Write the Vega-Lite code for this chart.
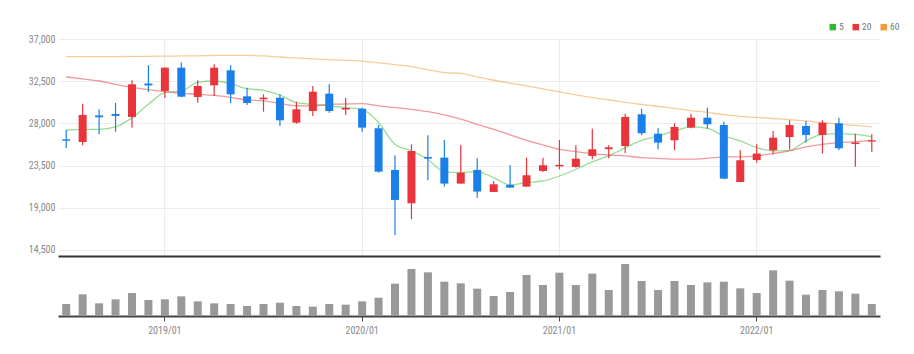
{
  "$schema": "https://vega.github.io/schema/vega-lite/v6.json",
  "padding": {"left": 8, "top": 22, "right": 34, "bottom": 5},
  "background": "white",
  "config": {
    "view": {"stroke": null},
    "font": "Roboto Condensed, Liberation Sans Narrow, Liberation Sans, sans-serif",
    "axis": {"labelFont": "Roboto Condensed, Liberation Sans Narrow, Liberation Sans, sans-serif", "labelColor": "#888", "labelFontSize": 10, "titleFontSize": 10},
    "legend": {"labelFont": "Roboto Condensed, Liberation Sans Narrow, Liberation Sans, sans-serif"}
  },
  "data": {"values": [
    {"m":"2018/07","o":26300,"h":27300,"l":25380,"c":26150,"v":360000,"5":27270,"20":32950,"60":35110},
    {"m":"2018/08","o":26020,"h":30100,"l":25670,"c":28900,"v":650000,"5":27370,"20":32750,"60":35110},
    {"m":"2018/09","o":28850,"h":29500,"l":26840,"c":28650,"v":380000,"5":27370,"20":32520,"60":35120},
    {"m":"2018/10","o":29000,"h":30180,"l":27120,"c":28800,"v":500000,"5":27620,"20":32170,"60":35130},
    {"m":"2018/11","o":28690,"h":32600,"l":27550,"c":32170,"v":690000,"5":28610,"20":31830,"60":35140},
    {"m":"2018/12","o":32250,"h":34200,"l":31350,"c":32050,"v":480000,"5":30040,"20":31600,"60":35150},
    {"m":"2019/01","o":31460,"h":34000,"l":30700,"c":33940,"v":500000,"5":31280,"20":31380,"60":35170},
    {"m":"2019/02","o":33940,"h":34500,"l":30800,"c":30850,"v":590000,"5":31460,"20":31200,"60":35190},
    {"m":"2019/03","o":30820,"h":32600,"l":30210,"c":31990,"v":440000,"5":32380,"20":31100,"60":35210},
    {"m":"2019/04","o":32060,"h":34300,"l":30920,"c":33940,"v":380000,"5":32520,"20":30990,"60":35240},
    {"m":"2019/05","o":33660,"h":34200,"l":30180,"c":31100,"v":360000,"5":32240,"20":30780,"60":35260},
    {"m":"2019/06","o":30890,"h":31810,"l":29960,"c":30180,"v":300000,"5":31700,"20":30500,"60":35250},
    {"m":"2019/07","o":30580,"h":31100,"l":29250,"c":30750,"v":360000,"5":31530,"20":30400,"60":35200},
    {"m":"2019/08","o":30740,"h":31100,"l":27720,"c":28330,"v":400000,"5":31030,"20":30130,"60":35080},
    {"m":"2019/09","o":28080,"h":30320,"l":27970,"c":29500,"v":300000,"5":30210,"20":29880,"60":34980},
    {"m":"2019/10","o":29320,"h":31990,"l":28790,"c":31380,"v":280000,"5":30040,"20":29860,"60":34870},
    {"m":"2019/11","o":31170,"h":32170,"l":29140,"c":29320,"v":360000,"5":29860,"20":30040,"60":34800},
    {"m":"2019/12","o":29480,"h":30740,"l":28900,"c":29650,"v":340000,"5":29680,"20":30070,"60":34730},
    {"m":"2020/01","o":29570,"h":29680,"l":27120,"c":27550,"v":440000,"5":29500,"20":30100,"60":34650},
    {"m":"2020/02","o":27480,"h":27830,"l":22750,"c":22850,"v":550000,"5":28080,"20":29860,"60":34460},
    {"m":"2020/03","o":23040,"h":24600,"l":16110,"c":19840,"v":970000,"5":25770,"20":29680,"60":34270},
    {"m":"2020/04","o":19480,"h":25770,"l":17780,"c":25060,"v":1410000,"5":25060,"20":29500,"60":34050},
    {"m":"2020/05","o":24420,"h":26730,"l":21940,"c":24250,"v":1310000,"5":24180,"20":29250,"60":33730},
    {"m":"2020/06","o":24350,"h":26230,"l":21260,"c":21580,"v":1030000,"5":22820,"20":28900,"60":33420},
    {"m":"2020/07","o":21580,"h":25700,"l":21580,"c":22750,"v":980000,"5":22750,"20":28450,"60":33330},
    {"m":"2020/08","o":23040,"h":24280,"l":20080,"c":20730,"v":820000,"5":22850,"20":27900,"60":32950},
    {"m":"2020/09","o":20690,"h":21860,"l":20690,"c":21510,"v":600000,"5":22210,"20":27370,"60":32600},
    {"m":"2020/10","o":21440,"h":23540,"l":21150,"c":21150,"v":720000,"5":21440,"20":26770,"60":32290},
    {"m":"2020/11","o":21260,"h":24350,"l":21260,"c":22470,"v":1230000,"5":21680,"20":26200,"60":32000},
    {"m":"2020/12","o":22930,"h":24350,"l":22820,"c":23540,"v":930000,"5":21860,"20":25700,"60":31680},
    {"m":"2021/01","o":23420,"h":26230,"l":23110,"c":23580,"v":1300000,"5":22390,"20":25240,"60":31350},
    {"m":"2021/02","o":23360,"h":25660,"l":23280,"c":24240,"v":930000,"5":23110,"20":24990,"60":31030},
    {"m":"2021/03","o":24530,"h":27440,"l":24180,"c":25240,"v":1270000,"5":23900,"20":24780,"60":30740},
    {"m":"2021/04","o":25250,"h":25670,"l":24280,"c":25450,"v":780000,"5":24530,"20":24630,"60":30520},
    {"m":"2021/05","o":25590,"h":29040,"l":24820,"c":28690,"v":1560000,"5":25410,"20":24530,"60":30250},
    {"m":"2021/06","o":28970,"h":29570,"l":26730,"c":26950,"v":1050000,"5":26200,"20":24350,"60":30020},
    {"m":"2021/07","o":26900,"h":27480,"l":25240,"c":25950,"v":780000,"5":26660,"20":24280,"60":29800},
    {"m":"2021/08","o":26200,"h":28010,"l":25130,"c":27620,"v":1050000,"5":27190,"20":24180,"60":29600},
    {"m":"2021/09","o":27550,"h":29040,"l":27480,"c":28610,"v":930000,"5":27620,"20":24180,"60":29370},
    {"m":"2021/10","o":28610,"h":29680,"l":27440,"c":27900,"v":1010000,"5":27480,"20":24280,"60":29170},
    {"m":"2021/11","o":27830,"h":28180,"l":22040,"c":22110,"v":1030000,"5":26660,"20":24420,"60":28930},
    {"m":"2021/12","o":21750,"h":25130,"l":21750,"c":24070,"v":830000,"5":26130,"20":24420,"60":28750},
    {"m":"2022/01","o":24100,"h":25770,"l":23810,"c":24780,"v":690000,"5":25410,"20":24530,"60":28640},
    {"m":"2022/02","o":25130,"h":27190,"l":24710,"c":26480,"v":1370000,"5":25060,"20":24780,"60":28520},
    {"m":"2022/03","o":26550,"h":28330,"l":25240,"c":27830,"v":1060000,"5":25130,"20":25060,"60":28400},
    {"m":"2022/04","o":27720,"h":28260,"l":25950,"c":26770,"v":640000,"5":26130,"20":25490,"60":28260},
    {"m":"2022/05","o":26770,"h":28330,"l":24780,"c":28080,"v":780000,"5":26840,"20":25770,"60":28080},
    {"m":"2022/06","o":28010,"h":28610,"l":25130,"c":25350,"v":740000,"5":26900,"20":25950,"60":27930},
    {"m":"2022/07","o":25800,"h":26900,"l":23390,"c":25960,"v":670000,"5":26840,"20":26050,"60":27780},
    {"m":"2022/08","o":26060,"h":26840,"l":24990,"c":26200,"v":360000,"5":26580,"20":26200,"60":27620}
  ]},
  "spacing": 3,
  "vconcat": [
    {
      "width": 822,
      "height": 217,
      "encoding": {
        "x": {
          "field": "m", "type": "ordinal", "sort": null,
          "scale": {"type": "band", "paddingInner": 0, "paddingOuter": 0},
          "axis": {"title": null, "labels": false, "ticks": false, "domain": true, "domainColor": "#333", "domainWidth": 2,
                   "grid": true, "gridColor": "#ececec", "bandPosition": 0.5,
                   "values": ["2019/01", "2020/01", "2021/01", "2022/01"]}
        }
      },
      "layer": [
        {
          "mark": {"type": "line", "strokeWidth": 1.3, "strokeOpacity": 0.5, "interpolate": "monotone"},
          "transform": [{"fold": ["5", "20", "60"], "as": ["ma", "val"]}],
          "encoding": {
            "y": {"field": "val", "type": "quantitative",
                  "scale": {"domain": [13860, 37000], "zero": false, "nice": false},
                  "axis": {"title": null, "values": [14500, 19000, 23500, 28000, 32500, 37000],
                           "labelExpr": "format(datum.value, ',')",
                           "domain": false, "ticks": false, "grid": true, "gridColor": "#ececec",
                           "labelPadding": 3, "minExtent": 50, "maxExtent": 50}},
            "color": {"field": "ma", "type": "nominal",
                      "scale": {"domain": ["5", "20", "60"], "range": ["#2cbb2c", "#e8343a", "#f09a3a"]},
                      "legend": {"title": null, "orient": "none", "legendX": 770, "legendY": -17, "direction": "horizontal",
                                 "symbolType": "square", "symbolSize": 9, "symbolStrokeWidth": 3.5, "symbolOpacity": 1,
                                 "labelFontSize": 9.5, "labelColor": "#777", "columnPadding": 3, "labelOffset": 1.5, "symbolOffset": 0}}
          }
        },
        {
          "mark": {"type": "rule", "strokeWidth": 1.2},
          "encoding": {
            "y": {"field": "l", "type": "quantitative"},
            "y2": {"field": "h"},
            "color": {"condition": {"test": "datum.c >= datum.o", "value": "#e8343a"}, "value": "#1a7fe8"}
          }
        },
        {
          "mark": {"type": "bar", "size": 8},
          "encoding": {
            "y": {"field": "o", "type": "quantitative"},
            "y2": {"field": "c"},
            "color": {"condition": {"test": "datum.c >= datum.o", "value": "#e8343a"}, "value": "#1a7fe8"}
          }
        }
      ]
    },
    {
      "width": 822,
      "height": 57,
      "mark": {"type": "bar", "size": 8, "color": "#999"},
      "encoding": {
        "x": {
          "field": "m", "type": "ordinal", "sort": null,
          "scale": {"type": "band", "paddingInner": 0, "paddingOuter": 0},
          "axis": {"title": null, "domainColor": "#444", "domainWidth": 2, "tickColor": "#444", "tickSize": 5,
                   "bandPosition": 0.5, "labelAngle": 0, "labelPadding": 4, "grid": false,
                   "values": ["2019/01", "2020/01", "2021/01", "2022/01"]}
        },
        "y": {"field": "v", "type": "quantitative", "scale": {"domain": [0, 1710000], "nice": false}, "axis": null}
      }
    }
  ]
}
